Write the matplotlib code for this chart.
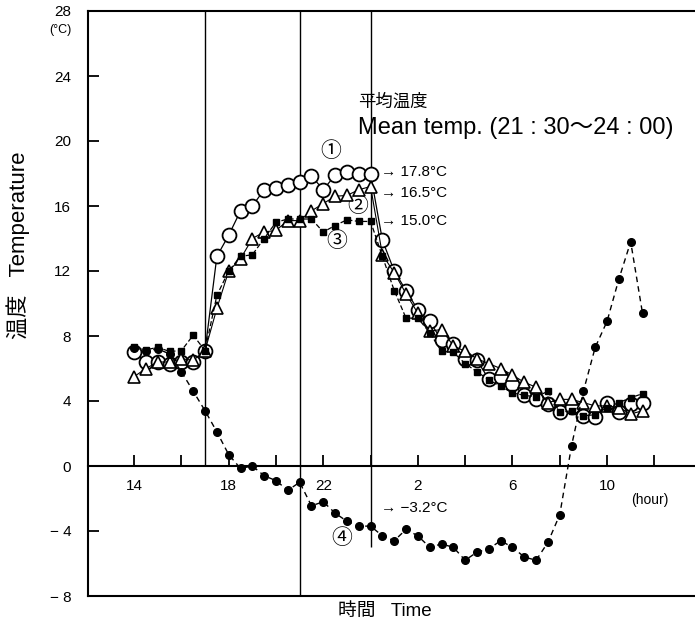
import matplotlib
matplotlib.use("Agg")
import matplotlib.pyplot as plt

plt.rcParams['font.family'] = ['Liberation Sans', 'Noto Sans CJK JP', 'DejaVu Sans']

# time of day in hours (26 = 2:00 next day, ...)
hours = [14.0, 14.5, 15.0, 15.5, 16.0, 16.5, 17.0, 17.5, 18.0, 18.5, 19.0,
         19.5, 20.0, 20.5, 21.0, 21.5, 22.0, 22.5, 23.0, 23.5, 24.0, 24.5,
         25.0, 25.5, 26.0, 26.5, 27.0, 27.5, 28.0, 28.5, 29.0, 29.5, 30.0,
         30.5, 31.0, 31.5, 32.0, 32.5, 33.0, 33.5, 34.0, 34.5, 35.0, 35.5]

temp_1 = [7.0, 6.4, 6.4, 6.3, 6.4, 6.4, 7.1, 12.9, 14.2, 15.7, 16.0, 17.0,
          17.1, 17.3, 17.5, 17.85, 17.0, 17.9, 18.1, 18.0, 17.95, 13.9, 12.0,
          10.8, 9.6, 8.9, 7.75, 7.5, 6.6, 6.5, 5.35, 5.5, 5.05, 4.35, 4.15,
          3.8, 3.3, 3.65, 3.1, 3.0, 3.9, 3.3, 3.8, 3.9]
temp_2 = [5.5, 6.0, 6.4, 6.4, 6.6, 6.5, 7.1, 9.7, 12.0, 12.75, 14.0, 14.4,
          14.5, 15.1, 15.1, 15.7, 16.15, 16.6, 16.65, 17.0, 17.2, 13.0, 11.9,
          10.6, 9.4, 8.3, 8.4, 7.4, 7.05, 6.6, 6.3, 6.0, 5.6, 5.15, 4.85,
          3.9, 4.1, 4.1, 3.9, 3.7, 3.7, 3.6, 3.2, 3.4]
temp_3 = [7.3, 7.15, 7.3, 7.05, 7.1, 8.05, 7.1, 10.5, 12.0, 12.9, 13.0, 14.0,
          15.0, 15.2, 15.2, 15.2, 14.4, 14.8, 15.15, 15.05, 15.05, 12.9, 10.8,
          9.1, 9.1, 8.2, 7.05, 7.0, 6.3, 5.8, 5.3, 4.9, 4.5, 4.35, 4.25,
          4.6, 3.3, 3.4, 3.1, 3.15, 3.6, 3.9, 4.2, 4.45]
temp_4 = [7.25, 7.1, 7.2, 6.9, 5.8, 4.6, 3.4, 2.1, 0.7, -0.15, 0.0, -0.6,
          -0.9, -1.5, -1.0, -2.45, -2.2, -2.9, -3.4, -3.7, -3.7, -4.3, -4.6,
          -3.9, -4.3, -5.0, -4.8, -5.0, -5.8, -5.3, -5.1, -4.6, -5.0, -5.6,
          -5.8, -4.7, -3.0, 1.25, 4.6, 7.3, 8.9, 11.5, 13.8, 9.4]

mean_labels = ["→ 17.8°C", "→ 16.5°C", "→ 15.0°C", "→ −3.2°C"]
xtick_pos = [14, 18, 22, 26, 30, 34]
xtick_labels = ["14", "18", "22", "2", "6", "10"]
ytick_pos = [-8, -4, 0, 4, 8, 12, 16, 20, 24, 28]
ytick_labels = ["− 8", "− 4", "0", "4", "8", "12", "16", "20", "24", "28"]

fig = plt.figure(figsize=(6.95, 6.29), dpi=100)
ax = fig.add_axes([88 / 695, 33 / 629, 1 - 88 / 695, (596 - 11) / 629])
ax.set_xlim(12.05, 37.72)
ax.set_ylim(-8, 28)

# series
ax.plot(hours, temp_1, color='k', lw=0.9, marker='o', ms=10, mfc='white',
        mec='k', mew=1.3, zorder=3)
ax.plot(hours, temp_2, color='k', lw=0.8, marker='^', ms=8.5, mfc='white',
        mec='k', mew=1.2, zorder=4)
ax.plot(hours, temp_3, color='k', lw=0.9, ls=(0, (4, 2)), marker='s', ms=5,
        mfc='k', mec='k', zorder=5)
ax.plot(hours, temp_4, color='k', lw=1.0, ls=(0, (4, 3)), marker='o', ms=5.5,
        mfc='k', mec='k', zorder=6)

# vertical reference lines
ax.vlines(17, 0, 28, color='k', lw=1.0)
ax.vlines(21, -8, 28, color='k', lw=1.0)
ax.vlines(24, -5.0, 28, color='k', lw=1.0)

# axes styling
ax.spines['right'].set_visible(False)
ax.spines['bottom'].set_position(('data', 0))
for s in ['left', 'bottom', 'top']:
    ax.spines[s].set_linewidth(1.5)
ax.axhline(-8, color='k', lw=1.5, clip_on=False)

ax.set_xticks(list(range(14, 38, 2)))
ax.set_xticklabels([xtick_labels[xtick_pos.index(t)] if t in xtick_pos else ""
                    for t in range(14, 38, 2)])
ax.tick_params(axis='x', direction='in', length=8, width=1.3, pad=9,
               labelsize=11)
ax.set_yticks(ytick_pos)
ax.set_yticklabels(ytick_labels)
ax.tick_params(axis='y', direction='in', length=8, width=1.3, pad=12,
               labelsize=11)

# annotations
ax.text(10.9, 26.8, "(°C)", fontsize=9, ha='center', va='center', clip_on=False)
ax.text(35.8, -2.1, "(hour)", fontsize=10, ha='center', va='center')
ax.text(23.47, 22.4, "平均温度", fontsize=12.5, ha='left', va='center')
ax.text(23.47, 20.8, "Mean temp. (21 : 30〜24 : 00)", fontsize=17,
        ha='left', va='center')

circ = ["①", "②", "③", "④"]
circ_pos = [(22.3, 19.4), (23.47, 16.0), (22.55, 13.85), (22.8, -4.4)]
for c, (cx, cy) in zip(circ, circ_pos):
    ax.text(cx, cy, c, fontsize=15, ha='center', va='center',
            family=['Noto Sans CJK JP', 'DejaVu Sans'])

lab_pos = [(24.45, 18.1), (24.45, 16.8), (24.45, 15.1), (24.45, -2.6)]
for t, (lx, ly) in zip(mean_labels, lab_pos):
    ax.text(lx, ly, t, fontsize=11, ha='left', va='center')

fig.text(18 / 695, 1 - 245 / 629, "温度   Temperature", rotation=90,
         fontsize=16, ha='center', va='center')
fig.text(385 / 695, 1 - 611 / 629, "時間   Time", fontsize=13.5,
         ha='center', va='center')

fig.savefig("out.png", dpi=100)
